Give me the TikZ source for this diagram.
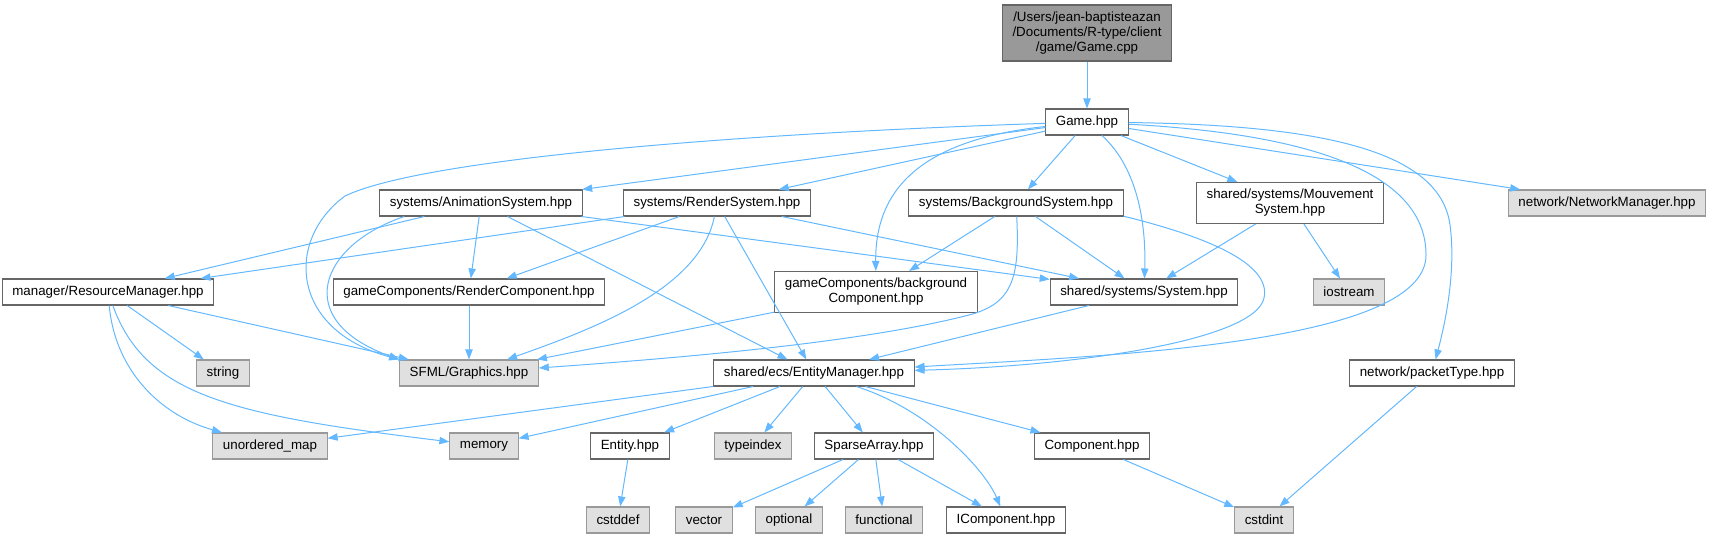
\documentclass[tikz,border=0pt]{standalone}
\usepackage{fontspec}
\setmainfont{Liberation Sans}
\usepackage{tikz}
\usetikzlibrary{arrows.meta}
\definecolor{edgeblue}{HTML}{63B8FF}
\definecolor{boxline}{HTML}{666666}
\definecolor{leafline}{HTML}{999999}
\definecolor{leaffill}{HTML}{E0E0E0}
\definecolor{rootfill}{HTML}{999999}

\begin{document}
\begin{tikzpicture}[
  x=0.75pt, y=-0.75pt,
  font=\fontsize{10}{11.25}\selectfont,
  dep/.style={-{Triangle[length=7.5pt,width=5.5pt]}, line width=0.75pt, draw=edgeblue},
  box/.style={rectangle, draw=boxline, fill=white, line width=0.8pt, minimum height=19.5pt, inner xsep=7.5pt, inner ysep=2pt, align=center},
  leaf/.style={box, draw=leafline, fill=leaffill},
  root/.style={box, fill=rootfill, minimum height=42pt},
  twoline/.style={box, minimum height=30.75pt}
]
\useasboundingbox (0,0) rectangle (1712,538);

% Include graph nodes
\node[root] (cpp) at (1087,33) {/Users/jean-baptisteazan\\/Documents/R-type/client\\/game/Game.cpp};
\node[box] (game) at (1087,122) {Game.hpp};

\node[box] (anim) at (481,203) {systems/AnimationSystem.hpp};
\node[box] (rsys) at (717,203) {systems/RenderSystem.hpp};
\node[box] (bgsys) at (1016,203) {systems/BackgroundSystem.hpp};
\node[twoline] (mvsys) at (1290,203) {shared/systems/Mouvement\\System.hpp};
\node[leaf] (netmgr) at (1607,203) {network/NetworkManager.hpp};

\node[box] (resmgr) at (108,292) {manager/ResourceManager.hpp};
\node[box] (rcomp) at (469,292) {gameComponents/RenderComponent.hpp};
\node[twoline] (bgcomp) at (876,292) {gameComponents/background\\Component.hpp};
\node[box] (system) at (1144,292) {shared/systems/System.hpp};
\node[leaf] (iostream) at (1349,292) {iostream};

\node[leaf] (string) at (223,373) {string};
\node[leaf] (sfml) at (469,373) {SFML/Graphics.hpp};
\node[box] (entmgr) at (814,373) {shared/ecs/EntityManager.hpp};
\node[box] (packet) at (1432,373) {network/packetType.hpp};

\node[leaf] (umap) at (270,446) {unordered\_map};
\node[leaf] (memory) at (484,446) {memory};
\node[box] (entity) at (630,446) {Entity.hpp};
\node[leaf] (typeindex) at (753,446) {typeindex};
\node[box] (sparse) at (874,446) {SparseArray.hpp};
\node[box] (component) at (1092,446) {Component.hpp};

\node[leaf] (cstddef) at (618,520) {cstddef};
\node[leaf] (vector) at (704,520) {vector};
\node[leaf] (optional) at (789,520) {optional};
\node[leaf] (functional) at (884,520) {functional};
\node[box] (icomp) at (1006,520) {IComponent.hpp};
\node[leaf] (cstdint) at (1264,520) {cstdint};

% Game.cpp / Game.hpp
\draw[dep] (cpp) -- (game);
\draw[dep] (game) .. controls (720,134) and (420,160) .. (345,196) .. controls (285,240) and (290,330) .. (sfml.north west);
\draw[dep] (game) -- (anim);
\draw[dep] (game) -- (rsys);
\draw[dep] (game) .. controls (920,140) and (875,190) .. (bgcomp);
\draw[dep] (game) -- (bgsys);
\draw[dep] (game) .. controls (1140,170) and (1146,230) .. (system);
\draw[dep] (game) -- (mvsys);
\draw[dep] (game) .. controls (1330,135) and (1426,180) .. (1426,255) .. controls (1426,345) and (1100,356) .. (entmgr);
\draw[dep] (game) .. controls (1320,125) and (1440,150) .. (1450,225) .. controls (1456,270) and (1446,320) .. (packet);
\draw[dep] (game) -- (netmgr);

% systems
\draw[dep] (anim) -- (resmgr);
\draw[dep] (anim.190) .. controls (320,245) and (290,320) .. (sfml.north west);
\draw[dep] (anim) -- (rcomp);
\draw[dep] (anim) -- (entmgr);
\draw[dep] (anim) -- (system);

\draw[dep] (rsys) -- (resmgr);
\draw[dep] (rsys) -- (rcomp);
\draw[dep] (rsys) .. controls (700,290) and (590,330) .. (sfml);
\draw[dep] (rsys) -- (entmgr);
\draw[dep] (rsys) -- (system);

\draw[dep] (bgsys) -- (bgcomp);
\draw[dep] (bgsys) .. controls (1020,280) and (1012,305) .. (965,316) .. controls (850,345) and (650,360) .. (sfml);
\draw[dep] (bgsys) -- (system);
\draw[dep] (bgsys.353) .. controls (1200,235) and (1272,262) .. (1264,298) .. controls (1255,340) and (1080,366) .. (entmgr);

\draw[dep] (mvsys) -- (system);
\draw[dep] (mvsys) -- (iostream);

% managers and components
\draw[dep] (resmgr) -- (string);
\draw[dep] (resmgr) -- (sfml);
\draw[dep] (resmgr) .. controls (115,370) and (160,415) .. (umap);
\draw[dep] (resmgr) .. controls (145,395) and (230,415) .. (memory);

\draw[dep] (rcomp) -- (sfml);
\draw[dep] (bgcomp) -- (sfml);
\draw[dep] (system) -- (entmgr);

% ecs
\draw[dep] (entmgr) -- (umap);
\draw[dep] (entmgr) -- (memory);
\draw[dep] (entmgr) -- (entity);
\draw[dep] (entmgr) -- (typeindex);
\draw[dep] (entmgr) -- (sparse);
\draw[dep] (entmgr) .. controls (930,410) and (985,470) .. (icomp);
\draw[dep] (entmgr) -- (component);

\draw[dep] (entity) -- (cstddef);
\draw[dep] (sparse) -- (vector);
\draw[dep] (sparse) -- (optional);
\draw[dep] (sparse) -- (functional);
\draw[dep] (sparse) -- (icomp);
\draw[dep] (component) -- (cstdint);
\draw[dep] (packet) -- (cstdint);
\end{tikzpicture}
\end{document}
